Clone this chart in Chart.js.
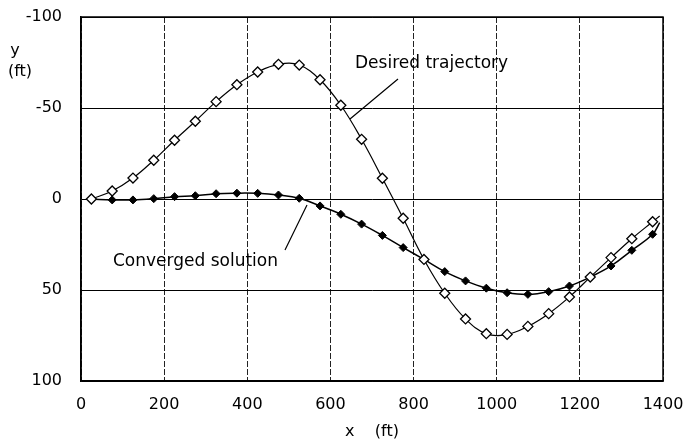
<!DOCTYPE html>
<html lang="en">
<head>
    <meta charset="UTF-8">
    <title>Desired trajectory vs converged solution</title>
    <script src="https://cdn.jsdelivr.net/npm/chart.js"></script>
    <style>
        body {
            margin: 0;
            padding: 0;
            background-color: #fff;
        }
        .container {
            width: 688px;
            height: 448px;
        }
    </style>
</head>
<body>
    <div class="container">
        <canvas id="trajChart" width="688" height="448"></canvas>
    </div>

    <script>
        // values (x in ft, y in ft, y axis points down)
        var xValues = [25, 75, 125, 175, 225, 275, 325, 375, 425, 475, 525, 575, 625, 675,
                       725, 775, 825, 875, 925, 975, 1025, 1075, 1125, 1175, 1225, 1275, 1325, 1375, 1392];
        var desiredY = [0, -4.4, -11.5, -21.3, -32.3, -42.7, -53.5, -62.8, -69.8, -74, -73.6, -65.5, -51.5, -32.8,
                        -11.4, 10.6, 33.2, 51.8, 65.9, 74, 74.4, 70, 63, 53.8, 42.9, 32.2, 21.8, 12.5, 9.3];
        var convergedY = [0, 0.5, 0.5, -0.2, -1.3, -1.8, -2.9, -3.2, -3.1, -2.2, -0.4, 3.8, 8.4, 13.8,
                          20, 26.7, 33.2, 39.9, 45, 49, 51.5, 52.4, 50.9, 47.8, 42.9, 36.8, 28.2, 19.4, 13];
        var xTicks = [0, 200, 400, 600, 800, 1000, 1200, 1400];
        var yTicks = [-100, -50, 0, 50, 100];

        var FONT = "'DejaVu Sans', sans-serif";

        function toPoints(ys) {
            return xValues.map(function(x, i) { return { x: x, y: ys[i] }; });
        }

        // last point only carries the curve to its end, no marker
        function markerSize(size) {
            return function(ctx) {
                return ctx.dataIndex === xValues.length - 1 ? 0 : size;
            };
        }

        // keep the plot box where the layout padding puts it
        function noOverhang(scale) {
            scale.paddingTop = 0;
            scale.paddingBottom = 0;
            scale.paddingLeft = 0;
            scale.paddingRight = 0;
        }

        // solid frame, annotation texts and the y axis label
        var labelsPlugin = {
            id: 'labels',
            beforeDatasetsDraw: function(chart) {
                var a = chart.chartArea;
                var ctx = chart.ctx;
                ctx.save();
                ctx.strokeStyle = '#000';
                ctx.lineWidth = 1.5;
                ctx.strokeRect(a.left, a.top, a.right - a.left, a.bottom - a.top);
                ctx.restore();
            },
            afterDraw: function(chart) {
                var ctx = chart.ctx;
                ctx.save();
                ctx.fillStyle = '#000';
                ctx.strokeStyle = '#000';
                ctx.lineWidth = 1.2;
                ctx.textBaseline = 'middle';
                ctx.textAlign = 'left';
                ctx.font = '17px ' + FONT;
                ctx.fillText('Desired trajectory', 355, 64);
                ctx.fillText('Converged solution', 113, 262);

                ctx.beginPath();
                ctx.moveTo(398, 79);
                ctx.lineTo(350, 119);
                ctx.moveTo(285, 250);
                ctx.lineTo(307, 205);
                ctx.stroke();

                ctx.textAlign = 'center';
                ctx.font = '16px ' + FONT;
                ctx.fillText('y', 15, 51);
                ctx.fillText('(ft)', 20, 72);
                ctx.restore();
            }
        };

        var ctx = document.getElementById('trajChart').getContext('2d');
        var trajChart = new Chart(ctx, {
            type: 'line',
            data: {
                datasets: [{
                    label: 'Desired trajectory',
                    data: toPoints(desiredY),
                    borderColor: '#000',
                    borderWidth: 1.2,
                    backgroundColor: '#fff',
                    pointStyle: 'rectRot',
                    pointRadius: markerSize(5),
                    pointBorderWidth: 1.3,
                    pointBackgroundColor: '#fff',
                    pointBorderColor: '#000',
                    tension: 0.4,
                    order: 0
                }, {
                    label: 'Converged solution',
                    data: toPoints(convergedY),
                    borderColor: '#000',
                    borderWidth: 1.5,
                    backgroundColor: '#000',
                    pointStyle: 'rectRot',
                    pointRadius: markerSize(4),
                    pointBorderWidth: 1,
                    pointBackgroundColor: '#000',
                    pointBorderColor: '#000',
                    tension: 0.4,
                    order: 1
                }]
            },
            options: {
                responsive: false,
                animation: false,
                layout: {
                    padding: { top: 17, right: 25, left: 0, bottom: 0 }
                },
                plugins: {
                    legend: { display: false },
                    tooltip: { enabled: false }
                },
                scales: {
                    x: {
                        type: 'linear',
                        min: 0,
                        max: 1400,
                        afterBuildTicks: function(scale) {
                            scale.ticks = xTicks.map(function(v) { return { value: v }; });
                        },
                        afterFit: function(scale) {
                            scale.height = 67;
                            noOverhang(scale);
                        },
                        border: { display: true, color: '#000', width: 1.5, dash: [6, 2] },
                        grid: {
                            color: '#222',
                            lineWidth: 1,
                            tickLength: 0,
                            drawTicks: false
                        },
                        ticks: {
                            color: '#000',
                            padding: 14,
                            maxRotation: 0,
                            font: { family: FONT, size: 16 },
                            callback: function(v) { return String(v); }
                        },
                        title: {
                            display: true,
                            text: 'x    (ft)',
                            color: '#000',
                            padding: { top: 0, bottom: 7 },
                            font: { family: FONT, size: 16 }
                        }
                    },
                    y: {
                        type: 'linear',
                        reverse: true,
                        min: -100,
                        max: 100,
                        afterBuildTicks: function(scale) {
                            scale.ticks = yTicks.map(function(v) { return { value: v }; });
                        },
                        afterFit: function(scale) {
                            scale.width = 81;
                            noOverhang(scale);
                        },
                        border: { display: true, color: '#000', width: 1.5 },
                        grid: {
                            color: '#000',
                            lineWidth: 1,
                            tickLength: 0,
                            drawTicks: false
                        },
                        ticks: {
                            color: '#000',
                            padding: 19,
                            font: { family: FONT, size: 16 },
                            callback: function(v) { return String(v); }
                        }
                    }
                }
            },
            plugins: [labelsPlugin]
        });
    </script>
</body>
</html>
